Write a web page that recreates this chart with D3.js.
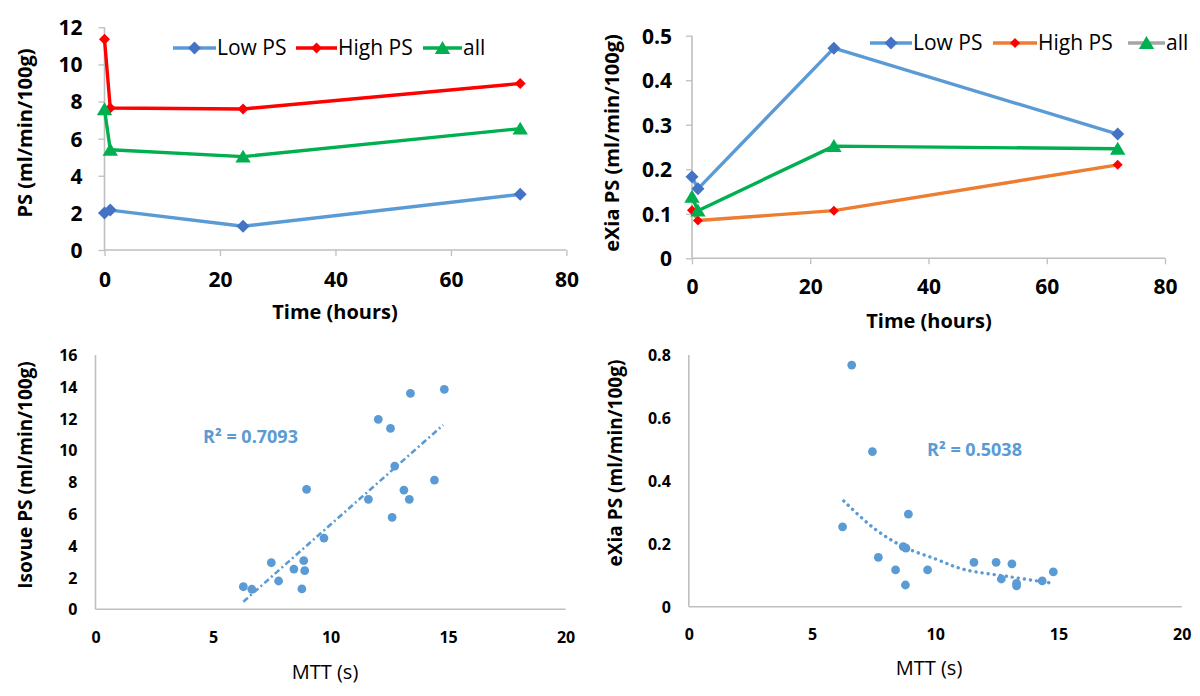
<!DOCTYPE html>
<html><head><meta charset="utf-8">
<script src="https://cdn.jsdelivr.net/npm/d3@7/dist/d3.min.js"></script>
<style>body{margin:0;background:#fff}svg{display:block}</style>
</head><body><svg id="c" width="1200" height="696"></svg>
<script>
// ---------- data ----------
const timeHours = [0, 1, 24, 72];
const timeTicks = [0, 20, 40, 60, 80];
const psLow  = [2.0, 2.15, 1.28, 3.0];
const psHigh = [11.35, 7.65, 7.6, 8.97];
const psAll  = [7.58, 5.4, 5.03, 6.54];
const psTicks = [0, 2, 4, 6, 8, 10, 12];
const exiaLow  = [0.183, 0.156, 0.472, 0.279];
const exiaHigh = [0.108, 0.085, 0.107, 0.21];
const exiaAll  = [0.138, 0.107, 0.252, 0.246];
const exiaTicks = [0, 0.1, 0.2, 0.3, 0.4, 0.5];
const seriesNames = ["Low PS", "High PS", "all"];

const mttIsovue = [6.29, 6.65, 7.48, 7.79, 8.44, 8.78, 8.86, 8.9, 8.98, 9.72, 11.61, 12.03, 12.55, 12.62, 12.73, 13.12, 13.35, 13.4, 14.42, 14.84];
const psIsovue  = [1.42, 1.26, 2.93, 1.78, 2.53, 1.28, 3.06, 2.43, 7.55, 4.48, 6.92, 11.95, 11.38, 5.79, 9.01, 7.5, 6.92, 13.58, 8.13, 13.84];
const isovueTrendX = [6.29, 14.79];
const isovueTrendY = [0.48, 11.59];
const isovueR2 = "R² = 0.7093";
const isovueTicks = [0, 2, 4, 6, 8, 10, 12, 14, 16];

const mttExia = [6.24, 6.61, 7.45, 7.69, 8.39, 8.70, 8.81, 8.79, 8.91, 9.69, 11.57, 12.47, 12.68, 13.11, 13.3, 13.3, 14.34, 14.79];
const psExia  = [0.254, 0.768, 0.493, 0.157, 0.117, 0.191, 0.186, 0.069, 0.294, 0.117, 0.141, 0.141, 0.088, 0.136, 0.074, 0.066, 0.082, 0.111];
const exiaTrendX = [6.29, 7.5, 8.70, 10.0, 11.14, 13.03, 14.63];
const exiaTrendY = [0.336, 0.25, 0.191, 0.152, 0.119, 0.095, 0.076];
const exiaR2 = "R² = 0.5038";
const exiaScatterTicks = [0, 0.2, 0.4, 0.6, 0.8];
const mttTicks = [0, 5, 10, 15, 20];

// ---------- helpers ----------
const svg = d3.select("#c");
const FONT = "'Open Sans', 'Noto Sans', sans-serif";
const AXIS = "#bfbfbf";
const BLUE_LINE = "#5b9bd5", BLUE_MK = "#4472c4";

const diamond = r => `M0,${-r}L${r},0L0,${r}L${-r},0Z`;
const triangle = r => `M0,${-r}L${r*1.1},${r*0.85}L${-r*1.1},${r*0.85}Z`;

function axes(cfg) {
  const {x, y, xTicks, yTicks, tickLen, yLabGap, xLabY, fs, fmt} = cfg;
  const [x0, x1] = x.range(), [y0, y1] = y.range();
  const gx = svg.append("g").attr("transform", `translate(0,${y0})`)
    .call(d3.axisBottom(x).tickValues(xTicks).tickSize(tickLen).tickFormat(d3.format("d")));
  const gy = svg.append("g").attr("transform", `translate(${x0},0)`)
    .call(d3.axisLeft(y).tickValues(yTicks).tickSize(tickLen).tickFormat(fmt));
  [gx, gy].forEach(g => {
    g.select(".domain").remove();
    g.selectAll(".tick line").attr("stroke", AXIS).attr("stroke-width", 1.3);
    g.selectAll("text").attr("fill", "#000").style("font-family", FONT)
      .style("font-size", fs + "px").style("font-weight", "bold");
  });
  gx.selectAll("text").attr("y", xLabY - y0).attr("dy", "0.35em");
  gy.selectAll("text").attr("x", -yLabGap).attr("dy", "0.35em");
  svg.append("line").attr("x1", x0).attr("x2", x1).attr("y1", y0).attr("y2", y0)
    .attr("stroke", AXIS).attr("stroke-width", 1.6);
  svg.append("line").attr("x1", x0).attr("x2", x0).attr("y1", y0).attr("y2", y1)
    .attr("stroke", AXIS).attr("stroke-width", 1.6);
}

function title(txt, cx, cy, fs, rot, weight) {
  svg.append("text").text(txt)
    .attr("transform", `translate(${cx},${cy})` + (rot ? " rotate(-90)" : ""))
    .attr("text-anchor", "middle").attr("dy", "0.35em")
    .style("font-family", FONT).style("font-size", fs + "px")
    .style("font-weight", weight || "bold").attr("fill", "#000");
}

function lineChart(cfg) {
  const x = d3.scaleLinear().domain([0, 80]).range(cfg.xr);
  const y = d3.scaleLinear().domain(cfg.yd).range(cfg.yr);
  axes({x, y, xTicks: timeTicks, yTicks: cfg.yTicks, tickLen: 6, yLabGap: cfg.yLabGap,
        xLabY: cfg.xLabY, fs: 21, fmt: cfg.fmt});
  const line = d3.line().x((d, i) => x(timeHours[i])).y(d => y(d));
  cfg.series.forEach(s => {
    svg.append("path").datum(s.values).attr("d", line).attr("fill", "none")
      .attr("stroke", s.line).attr("stroke-width", 3.4).attr("stroke-linejoin", "round");
  });
  cfg.series.forEach(s => {
    svg.selectAll(null).data(s.values).enter().append("path")
      .attr("transform", (d, i) => `translate(${x(timeHours[i])},${y(d)})`)
      .attr("d", s.shape === "tri" ? triangle(s.r) : diamond(s.r))
      .attr("fill", s.mk);
  });
  // legend
  cfg.series.forEach((s, k) => {
    const L = cfg.legend[k];
    svg.append("line").attr("x1", L[0]).attr("x2", L[1]).attr("y1", cfg.legY).attr("y2", cfg.legY)
      .attr("stroke", s.legLine || s.line).attr("stroke-width", 3.4);
    svg.append("path").attr("transform", `translate(${(L[0] + L[1]) / 2},${cfg.legY})`)
      .attr("d", s.shape === "tri" ? triangle(s.r) : diamond(s.r)).attr("fill", s.mk);
    svg.append("text").text(seriesNames[k]).attr("x", L[1] + 1).attr("y", cfg.legY).attr("dy", "0.35em")
      .style("font-family", FONT).style("font-size", "21px").attr("fill", "#000");
  });
  title("Time (hours)", cfg.xTitle[0], cfg.xTitle[1], 20, false);
  title(cfg.yTitle, cfg.yTitlePos[0], cfg.yTitlePos[1], 20, true);
}

lineChart({
  xr: [104.5, 566.4], yd: [0, 12], yr: [250, 27.3], yTicks: psTicks, fmt: d3.format("d"),
  yLabGap: 22, xLabY: 280,
  series: [
    {values: psLow, line: BLUE_LINE, mk: BLUE_MK, shape: "dia", r: 6.5},
    {values: psHigh, line: "#ff0000", mk: "#ff0000", shape: "dia", r: 5.5},
    {values: psAll, line: "#00b050", mk: "#00b050", shape: "tri", r: 7}
  ],
  legend: [[173, 216], [296, 337], [423, 462]], legY: 48,
  xTitle: [335, 312], yTitle: "PS (ml/min/100g)", yTitlePos: [25, 133]
});

lineChart({
  xr: [692, 1165], yd: [0, 0.5], yr: [258.3, 35.7], yTicks: exiaTicks, fmt: d => d === 0 ? "0" : d3.format(".1f")(d),
  yLabGap: 20, xLabY: 287,
  series: [
    {values: exiaLow, line: BLUE_LINE, mk: BLUE_MK, shape: "dia", r: 6.5},
    {values: exiaHigh, line: "#ed7d31", mk: "#ff0000", shape: "dia", r: 5},
    {values: exiaAll, line: "#00b050", mk: "#00b050", shape: "tri", r: 7, legLine: "#a5a5a5"}
  ],
  legend: [[870, 912], [993, 1037], [1128, 1165]], legY: 43,
  xTitle: [929, 321], yTitle: "eXia PS (ml/min/100g)", yTitlePos: [612, 143]
});

function scatter(cfg) {
  const x = d3.scaleLinear().domain([0, 20]).range(cfg.xr);
  const y = d3.scaleLinear().domain(cfg.yd).range(cfg.yr);
  axes({x, y, xTicks: mttTicks, yTicks: cfg.yTicks, tickLen: 0, yLabGap: cfg.yLabGap,
        xLabY: cfg.xLabY, fs: 16, fmt: cfg.fmt});
  svg.append("path").datum(cfg.tx.map((d, i) => [d, cfg.ty[i]]))
    .attr("d", d3.line().curve(d3.curveCatmullRom).x(d => x(d[0])).y(d => y(d[1])))
    .attr("fill", "none").attr("stroke", "#5b9bd5").attr("stroke-width", cfg.tw)
    .attr("stroke-dasharray", cfg.dash).attr("stroke-linecap", cfg.cap);
  svg.selectAll(null).data(cfg.xs).enter().append("circle")
    .attr("cx", d => x(d)).attr("cy", (d, i) => y(cfg.ys[i])).attr("r", 4.4).attr("fill", "#5b9bd5");
  svg.append("text").text(cfg.r2).attr("x", cfg.r2Pos[0]).attr("y", cfg.r2Pos[1]).attr("dy", "0.35em")
    .style("font-family", FONT).style("font-size", "18px").style("font-weight", "bold").attr("fill", "#5b9bd5");
  title("MTT (s)", cfg.xTitle[0], cfg.xTitle[1], 20, false, "normal");
  title(cfg.yTitle, cfg.yTitlePos[0], cfg.yTitlePos[1], 19, true);
}

scatter({
  xr: [95.5, 565.6], yd: [0, 16], yr: [609.3, 355], yTicks: isovueTicks, fmt: d3.format("d"),
  yLabGap: 18, xLabY: 637,
  xs: mttIsovue, ys: psIsovue, tx: isovueTrendX, ty: isovueTrendY, tw: 2.6, dash: "6,3,2,3", cap: "butt",
  r2: isovueR2, r2Pos: [203, 437], xTitle: [325, 672], yTitle: "Isovue PS (ml/min/100g)", yTitlePos: [25, 475]
});

scatter({
  xr: [688.8, 1181.7], yd: [0, 0.8], yr: [606.7, 355], yTicks: exiaScatterTicks, fmt: d => d === 0 ? "0" : d3.format(".1f")(d),
  yLabGap: 18, xLabY: 634,
  xs: mttExia, ys: psExia, tx: exiaTrendX, ty: exiaTrendY, tw: 3.4, dash: "0.1,6", cap: "round",
  r2: exiaR2, r2Pos: [927, 450], xTitle: [929, 668], yTitle: "eXia PS (ml/min/100g)", yTitlePos: [615, 463]
});
</script></body></html>
